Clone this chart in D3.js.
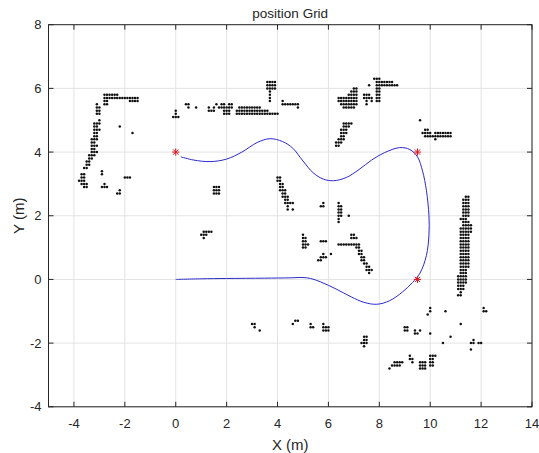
<!DOCTYPE html>
<html>
<head>
<meta charset="utf-8">
<script src="https://cdn.jsdelivr.net/npm/d3@7"></script>
<style>
body { margin: 0; background: #fff; }
text { font-family: "Liberation Sans", Arial, sans-serif; fill: #262626; }
</style>
</head>
<body>
<div id="chart-area"></div>
<script>
const xTicks = [-4, -2, 0, 2, 4, 6, 8, 10, 12, 14];
const yTicks = [-4, -2, 0, 2, 4, 6, 8];

// planned path
const pathX = [0.2, 0.7, 1.35, 2.0, 2.6, 3.2, 3.7, 4.2, 4.6, 5.0, 5.4, 5.8, 6.2, 6.7, 7.2, 7.7, 8.2, 8.8, 9.2, 9.5, 9.7, 9.85, 9.95, 9.95, 9.85, 9.6, 9.3, 8.9, 8.4, 7.9, 7.4, 6.9, 6.3, 5.7, 5.3, 5.0, 4.5, 3.5, 2.0, 1.0, 0.0];
const pathY = [3.85, 3.75, 3.70, 3.78, 4.0, 4.3, 4.42, 4.33, 4.12, 3.72, 3.35, 3.15, 3.10, 3.2, 3.45, 3.75, 3.98, 4.14, 4.08, 3.85, 3.4, 2.8, 2.0, 1.4, 0.75, 0.2, -0.1, -0.4, -0.67, -0.78, -0.72, -0.55, -0.3, -0.08, 0.03, 0.06, 0.05, 0.04, 0.03, 0.02, 0.0];

// waypoints
const markX = [0, 9.5, 9.5];
const markY = [4, 4, 0];

// occupied grid cells (0.1 m), one run per row: [y, xFrom, xTo]
const leftCells = [
    [5.8, -2.8, -2.3], [5.7, -2.8, -1.5], [5.6, -2.8, -2.7], [5.6, -1.8, -1.5],
    [5.5, -2.8, -2.7], [5.5, -3.1, -3.1], [5.4, -3.1, -3.0], [5.3, -3.1, -3.0],
    [5.2, -3.1, -3.0], [5.0, -3.0, -3.0], [4.9, -3.2, -3.0], [4.8, -3.2, -3.1],
    [4.7, -3.2, -3.0], [4.6, -3.2, -3.1], [4.5, -3.2, -3.1], [4.4, -3.3, -3.1],
    [4.3, -3.3, -3.2], [4.2, -3.3, -3.1], [4.1, -3.3, -3.2], [4.0, -3.3, -3.1],
    [3.9, -3.4, -3.2], [3.8, -3.4, -3.3], [3.7, -3.5, -3.4], [3.6, -3.5, -3.4],
    [3.5, -3.6, -3.5], [3.3, -3.7, -3.6], [3.2, -3.7, -3.6], [3.1, -3.8, -3.6],
    [3.0, -3.7, -3.5], [2.9, -3.6, -3.5],
    [4.8, -2.2, -2.2], [4.6, -1.7, -1.7], [3.4, -2.9, -2.9], [3.3, -2.9, -2.9],
    [3.2, -2.0, -1.8], [3.0, -2.8, -2.8], [2.9, -2.9, -2.7], [2.8, -2.2, -2.2],
    [2.7, -2.3, -2.2]
];

const topMidCells = [
    [5.3, 0.0, 0.0], [5.2, 0.0, 0.0], [5.1, -0.1, 0.1],
    [5.5, 0.4, 0.5], [5.4, 0.5, 0.5], [5.4, 0.8, 0.8],
    [5.5, 1.6, 1.6], [5.5, 1.8, 1.9], [5.5, 2.1, 2.2],
    [5.4, 1.3, 1.3], [5.4, 1.5, 1.5], [5.4, 1.7, 2.2], [5.4, 2.5, 3.3],
    [5.3, 1.3, 1.5], [5.3, 1.9, 2.1], [5.3, 2.4, 3.6],
    [5.2, 1.9, 2.1], [5.2, 2.4, 4.0],
    [6.2, 3.6, 3.9], [6.1, 3.6, 3.9], [6.0, 3.6, 3.9],
    [5.9, 3.7, 3.7], [5.8, 3.7, 3.7], [5.7, 3.7, 3.7], [5.6, 3.7, 3.7],
    [5.6, 4.2, 4.2], [5.5, 4.2, 4.8], [5.4, 4.8, 4.8]
];

const topRightCells = [
    [6.0, 7.0, 7.1], [5.9, 6.9, 7.1], [5.8, 6.8, 7.1], [5.7, 6.4, 7.1],
    [5.6, 6.4, 7.1], [5.5, 6.5, 7.1], [5.4, 6.6, 7.0],
    [5.8, 7.4, 7.6], [5.7, 7.4, 7.7], [5.6, 7.5, 7.5], [5.6, 7.7, 7.7], [5.5, 7.5, 7.5],
    [6.0, 7.9, 8.0], [5.9, 7.9, 8.0], [5.8, 7.9, 8.0], [5.7, 7.9, 8.0], [5.6, 7.9, 8.0],
    [6.3, 7.8, 8.0], [6.2, 7.9, 8.5], [6.1, 7.9, 8.7], [6.1, 7.6, 7.6],
    [4.9, 6.6, 6.9], [4.8, 6.6, 6.8], [4.7, 6.5, 6.7], [4.6, 6.5, 6.7],
    [4.5, 6.5, 6.6], [4.4, 6.4, 6.6], [4.3, 6.3, 6.5], [4.2, 6.3, 6.4],
    [5.0, 9.6, 9.6], [4.7, 9.8, 9.9], [4.6, 9.7, 10.0], [4.6, 10.2, 10.8],
    [4.5, 9.8, 10.8], [4.4, 10.2, 10.2]
];

const middleCells = [
    [3.2, 4.0, 4.1], [3.1, 4.0, 4.1], [3.0, 4.1, 4.2], [2.9, 4.1, 4.2],
    [2.8, 4.1, 4.3], [2.7, 4.2, 4.3], [2.6, 4.2, 4.4], [2.5, 4.3, 4.4],
    [2.4, 4.3, 4.6], [2.3, 4.4, 4.4], [2.2, 4.4, 4.4], [2.2, 4.6, 4.6],
    [2.4, 5.8, 5.8], [2.3, 5.7, 5.8],
    [2.4, 6.4, 6.4], [2.3, 6.4, 6.5], [2.2, 6.4, 6.5], [2.1, 6.4, 6.5],
    [2.0, 6.4, 6.5], [1.9, 6.4, 6.4], [1.8, 6.4, 6.4], [2.0, 6.8, 6.8],
    [1.4, 5.0, 5.0], [1.3, 5.0, 5.1], [1.2, 5.0, 5.1], [1.1, 5.0, 5.2], [1.0, 5.0, 5.1],
    [1.2, 5.7, 5.9], [1.1, 6.4, 7.2], [1.4, 6.9, 7.0], [1.3, 6.9, 7.1],
    [1.0, 7.1, 7.2], [0.9, 7.2, 7.3], [0.8, 7.2, 7.3], [0.7, 7.3, 7.4],
    [0.6, 7.3, 7.4], [0.5, 7.4, 7.5], [0.4, 7.5, 7.6], [0.3, 7.5, 7.7], [0.2, 7.6, 7.6],
    [0.8, 5.8, 5.8], [0.8, 6.1, 6.1], [0.7, 5.7, 5.9], [0.6, 5.6, 5.7],
    [2.9, 1.5, 1.7], [2.8, 1.5, 1.7], [2.7, 1.5, 1.7],
    [1.5, 1.1, 1.4], [1.4, 1.0, 1.2], [1.3, 1.1, 1.1]
];

const rightCells = [
    [2.6, 11.4, 11.5], [2.5, 11.3, 11.5], [2.4, 11.3, 11.5], [2.3, 11.3, 11.5],
    [2.2, 11.3, 11.5], [2.1, 11.3, 11.5], [2.0, 11.3, 11.5], [1.9, 11.2, 11.4],
    [1.8, 11.3, 11.5], [1.7, 11.3, 11.6], [1.6, 11.2, 11.6], [1.5, 11.2, 11.6],
    [1.4, 11.2, 11.5], [1.3, 11.2, 11.5], [1.2, 11.2, 11.5], [1.1, 11.2, 11.5],
    [1.0, 11.2, 11.5], [0.9, 11.2, 11.5], [0.8, 11.2, 11.5], [0.7, 11.2, 11.5],
    [0.6, 11.2, 11.5], [0.5, 11.2, 11.5], [0.4, 11.2, 11.5], [0.3, 11.2, 11.4],
    [0.2, 11.2, 11.4], [0.1, 11.1, 11.4], [0.0, 11.1, 11.4], [-0.1, 11.1, 11.4],
    [-0.2, 11.1, 11.3], [-0.3, 11.1, 11.3], [-0.4, 11.2, 11.2], [-0.5, 11.1, 11.2]
];

const bottomCells = [
    [-1.4, 3.0, 3.1], [-1.5, 3.1, 3.1], [-1.6, 3.3, 3.3],
    [-1.3, 4.7, 4.8], [-1.4, 4.6, 4.6],
    [-1.4, 5.3, 5.3], [-1.5, 5.3, 5.4],
    [-1.4, 5.8, 5.8], [-1.5, 5.8, 6.0], [-1.6, 5.8, 6.0],
    [-1.8, 7.4, 7.5], [-1.9, 7.4, 7.5], [-2.0, 7.3, 7.5], [-2.1, 7.4, 7.4],
    [-1.5, 9.0, 9.1], [-1.6, 9.0, 9.1],
    [-1.6, 9.4, 9.4], [-1.6, 9.6, 9.6], [-1.7, 9.4, 9.5], [-1.7, 10.0, 10.0],
    [-0.9, 10.0, 10.0], [-1.0, 10.0, 10.0], [-1.1, 9.9, 9.9],
    [-1.0, 10.6, 10.6], [-1.4, 11.2, 11.2], [-1.8, 10.8, 10.8], [-2.0, 10.5, 10.5],
    [-1.9, 11.7, 11.7], [-2.0, 11.6, 11.7], [-2.0, 11.9, 12.0], [-2.2, 11.6, 11.6],
    [-0.9, 12.1, 12.1], [-1.0, 12.1, 12.2],
    [-2.6, 8.6, 8.9], [-2.7, 8.5, 8.8], [-2.8, 8.4, 8.4],
    [-2.4, 9.2, 9.2], [-2.5, 9.2, 9.3], [-2.6, 9.3, 9.3],
    [-2.6, 9.6, 9.8], [-2.7, 9.6, 9.8], [-2.8, 9.6, 9.8],
    [-2.4, 10.0, 10.2], [-2.5, 10.0, 10.1], [-2.6, 10.0, 10.1], [-2.7, 10.0, 10.1]
];

function cells(runs) {
    let pts = [];
    runs.forEach(function (r) {
        for (let i = Math.round(r[1] * 10); i <= Math.round(r[2] * 10); i++) {
            pts.push([i / 10, r[0]]);
        }
    });
    return pts;
}

const W = 539, H = 453;
const mLeft = 48.5, mRight = 532, mTop = 24.7, mBottom = 406.8;

let svg = d3.select("#chart-area").append("svg")
    .attr("width", W)
    .attr("height", H);

const x = d3.scaleLinear().domain([-5, 14]).range([mLeft, mRight]);
const y = d3.scaleLinear().domain([-4, 8]).range([mBottom, mTop]);

// grid
svg.append("g").selectAll("line")
    .data(xTicks)
    .enter().append("line")
    .attr("x1", d => x(d)).attr("x2", d => x(d))
    .attr("y1", mTop).attr("y2", mBottom)
    .attr("stroke", "#e3e3e3");

svg.append("g").selectAll("line")
    .data(yTicks)
    .enter().append("line")
    .attr("x1", mLeft).attr("x2", mRight)
    .attr("y1", d => y(d)).attr("y2", d => y(d))
    .attr("stroke", "#e3e3e3");

// grid cells
const allCells = cells(leftCells).concat(cells(topMidCells), cells(topRightCells),
    cells(middleCells), cells(rightCells), cells(bottomCells));

svg.append("g").selectAll("circle")
    .data(allCells)
    .enter().append("circle")
    .attr("cx", d => x(d[0]))
    .attr("cy", d => y(d[1]))
    .attr("r", 1.25)
    .attr("fill", "#111");

// path
const line = d3.line()
    .x(d => x(d[0]))
    .y(d => y(d[1]))
    .curve(d3.curveCatmullRom);

svg.append("path")
    .datum(d3.zip(pathX, pathY))
    .attr("d", line)
    .attr("fill", "none")
    .attr("stroke", "#2a2acc")
    .attr("stroke-width", 1);

// asterisk markers
const star = "M-3.6,0H3.6M0,-3.6V3.6M-2.6,-2.6L2.6,2.6M-2.6,2.6L2.6,-2.6";
svg.append("g").selectAll("path")
    .data(d3.zip(markX, markY))
    .enter().append("path")
    .attr("transform", d => "translate(" + x(d[0]) + "," + y(d[1]) + ")")
    .attr("d", star)
    .attr("stroke", "#e0141e")
    .attr("stroke-width", 1)
    .attr("fill", "none");

// axes box
svg.append("rect")
    .attr("x", mLeft).attr("y", mTop)
    .attr("width", mRight - mLeft).attr("height", mBottom - mTop)
    .attr("fill", "none")
    .attr("stroke", "#262626")
    .attr("stroke-width", 1);

const tickLen = 5;
let ticks = svg.append("g").attr("stroke", "#262626");
xTicks.forEach(function (t) {
    ticks.append("line").attr("x1", x(t)).attr("x2", x(t)).attr("y1", mBottom).attr("y2", mBottom - tickLen);
    ticks.append("line").attr("x1", x(t)).attr("x2", x(t)).attr("y1", mTop).attr("y2", mTop + tickLen);
});
yTicks.forEach(function (t) {
    ticks.append("line").attr("x1", mLeft).attr("x2", mLeft + tickLen).attr("y1", y(t)).attr("y2", y(t));
    ticks.append("line").attr("x1", mRight).attr("x2", mRight - tickLen).attr("y1", y(t)).attr("y2", y(t));
});

svg.append("g").selectAll("text")
    .data(xTicks)
    .enter().append("text")
    .attr("x", d => x(d))
    .attr("y", mBottom + 21)
    .attr("text-anchor", "middle")
    .attr("font-size", 13)
    .text(d => d);

svg.append("g").selectAll("text")
    .data(yTicks)
    .enter().append("text")
    .attr("x", mLeft - 7)
    .attr("y", d => y(d) + 4.5)
    .attr("text-anchor", "end")
    .attr("font-size", 13)
    .text(d => d);

svg.append("text")
    .attr("x", (mLeft + mRight) / 2)
    .attr("y", 18)
    .attr("text-anchor", "middle")
    .attr("font-size", 13.5)
    .text("position Grid");

svg.append("text")
    .attr("x", (mLeft + mRight) / 2)
    .attr("y", 450)
    .attr("text-anchor", "middle")
    .attr("font-size", 15)
    .text("X (m)");

svg.append("text")
    .attr("transform", "translate(24," + (mTop + mBottom) / 2 + ") rotate(-90)")
    .attr("text-anchor", "middle")
    .attr("font-size", 15)
    .text("Y (m)");
</script>
</body>
</html>
